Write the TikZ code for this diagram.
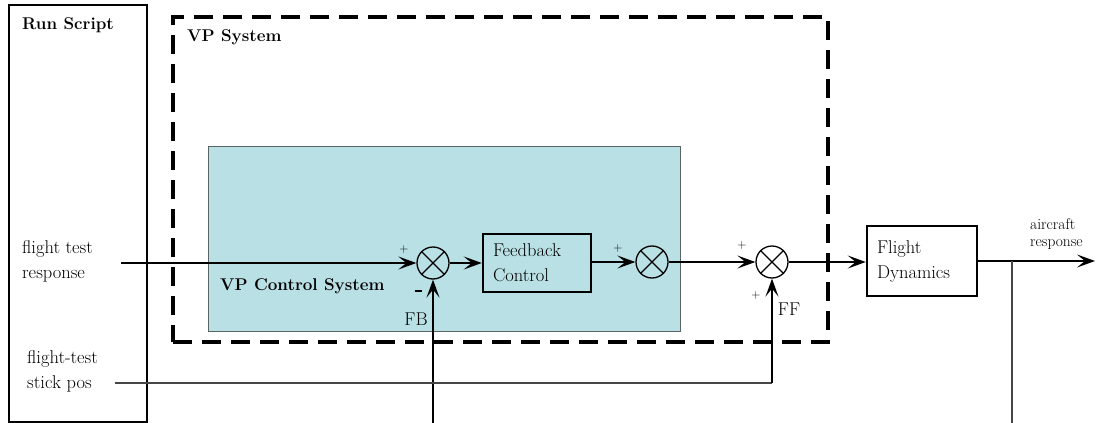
\documentclass[tikz,border=0pt]{standalone}
\usepackage{fontspec}
\usetikzlibrary{arrows.meta}
\definecolor{tealfill}{RGB}{185,224,228}
\definecolor{tealedge}{RGB}{90,100,100}
\definecolor{thingray}{RGB}{70,70,70}
\begin{document}
\begin{tikzpicture}[x=1pt,y=-1pt,
  txt/.style={font=\fontsize{18.5}{25}\selectfont, align=left, inner sep=0pt},
  btxt/.style={font=\fontsize{17}{25}\selectfont\bfseries, align=left, inner sep=0pt},
  smalltxt/.style={font=\fontsize{15.5}{17}\selectfont, align=left, inner sep=0pt},
  signtxt/.style={font=\fontsize{12}{12}\selectfont, inner sep=0pt},
  blockbox/.style={draw, line width=2.5pt, minimum height=58pt, inner xsep=10pt, inner ysep=0pt,
    font=\fontsize{18.5}{25}\selectfont, align=left},
  sumj/.style={circle, draw, line width=1.3pt, minimum size=32pt, inner sep=0pt},
  conn/.style={line width=1.6pt, -{Stealth[length=18pt,width=13pt,inset=8pt]}},
  grayline/.style={line width=1.2pt, draw=thingray},
]
\useasboundingbox (0,0) rectangle (1096,423);
\fill[white] (0,0) rectangle (1096,423);

% containers
\node[draw, line width=2pt, minimum width=138pt, minimum height=417pt, inner sep=0pt] (rs) at (78,213.5) {};
\node[btxt, anchor=west] (rstxt) at (22,25) {Run Script};

\node[draw=tealedge, fill=tealfill, line width=0.8pt, minimum width=472pt, minimum height=185pt, inner sep=0pt] (vpc) at (444,238.5) {};
\node[btxt, anchor=west] (vpctxt) at (220,286) {VP Control System};

\node[draw, line width=3.5pt, dash pattern=on 19pt off 10pt, minimum width=655pt, minimum height=325pt, inner sep=0pt] (vps) at (500.5,179.5) {};
\node[btxt, anchor=west] (vpstxt) at (187,37) {VP System};

% blocks
\node[sumj] (s1) at (433,263) {};
\node[blockbox, text width=88pt] (fbc) at (537,263) {Feedback\\Control};
\node[sumj] (s2) at (652,262) {};
\node[sumj] (s3) at (772,262) {};
\node[blockbox, minimum height=70pt, text width=90pt] (fd) at (922,261) {Flight\\Dynamics};

\foreach \s in {s1,s2,s3}{
  \draw[line width=1.3pt] (\s.north west) -- (\s.south east);
  \draw[line width=1.3pt] (\s.north east) -- (\s.south west);
}

% texts on the left
\node[txt, anchor=west] (ftr) at (22,261) {flight test\\response};
\node[txt, anchor=west] (fts) at (27,371) {flight-test\\stick pos};
\node[smalltxt, anchor=west] (acr) at (1030,234) {aircraft\\response};

% coordinates
\coordinate (inA) at (121,263);
\coordinate (stk) at (115,383);
\coordinate (outB) at (1095,261);
\coordinate (tap) at (1012,261);
\coordinate (bot) at (0,423.5);

% connectors
\draw[conn] (inA) -- (s1.west);
\draw[conn] (s1.east) -- (fbc.west);
\draw[conn] (fbc.east |- s2.west) -- (s2.west);
\draw[conn] (s2.east) -- (s3.west);
\draw[conn] (s3.east) -- (fd.west |- s3.east);
\draw[conn] (fd.east) -- (outB);

\draw[grayline] (tap) -- (tap |- bot) -- (s1 |- bot);
\draw[conn] (s1 |- bot) -- (s1.south);

\draw[grayline] (stk) -- (stk -| s3);
\draw[conn] (stk -| s3) -- (s3.south);

% signs and labels
\node[signtxt] (p1) at (404,250) {+};
\node[signtxt] (m1) at (418,291) {\rule{7pt}{1.6pt}};
\node[signtxt] (p2) at (618,249) {+};
\node[signtxt] (p3) at (742,246) {+};
\node[signtxt] (p4) at (756,296) {+};
\node[txt] (fbl) at (416,319) {FB};
\node[txt] (ffl) at (789,309) {FF};
\end{tikzpicture}
\end{document}
